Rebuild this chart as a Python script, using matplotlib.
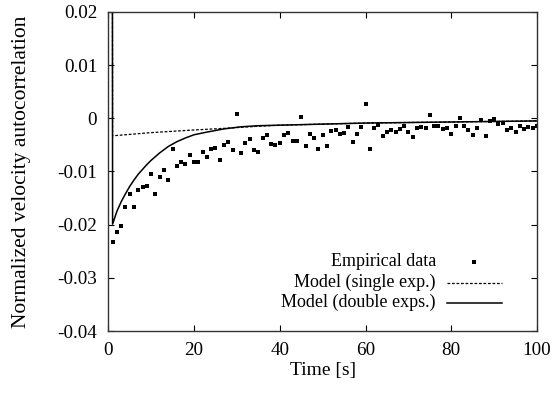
import numpy as np
import matplotlib
matplotlib.use("Agg")
import matplotlib.pyplot as plt

plt.rcParams["font.family"] = ["Liberation Serif", "DejaVu Serif"]
plt.rcParams["axes.unicode_minus"] = False

# empirical autocorrelation, lag t = 1..100 s
emp_t = np.arange(1, 101)
emp_v = [
    -0.0233, -0.0213, -0.0202, -0.0167, -0.0142, -0.0167, -0.0135, -0.0130, -0.0127, -0.0105,
    -0.0142, -0.0110, -0.0098, -0.0117, -0.0058, -0.0090, -0.0083, -0.0086, -0.0070, -0.0082,
    -0.0082, -0.0063, -0.0073, -0.0058, -0.0056, -0.0078, -0.0050, -0.0045, -0.0060, 0.0008,
    -0.0065, -0.0046, -0.0039, -0.0059, -0.0063, -0.0037, -0.0032, -0.0049, -0.0051, -0.0047,
    -0.0032, -0.0028, -0.0042, -0.0043, 0.0002, -0.0053, -0.0030, -0.0038, -0.0058, -0.0031,
    -0.0053, -0.0024, -0.0022, -0.0030, -0.0027, -0.0016, -0.0044, -0.0030, -0.0017, 0.0026,
    -0.0058, -0.0019, -0.0012, -0.0033, -0.0026, -0.0023, -0.0026, -0.0021, -0.0014, -0.0026,
    -0.0036, -0.0018, -0.0016, -0.0019, 0.0006, -0.0014, -0.0014, -0.0020, -0.0018, -0.0030,
    -0.0015, 0.0001, -0.0014, -0.0023, -0.0031, -0.0018, -0.0003, -0.0034, -0.0005, -0.0002,
    -0.0010, -0.0008, -0.0023, -0.0018, -0.0026, -0.0015, -0.0020, -0.0016, -0.0018, -0.0014,
]

# model curves (lag 0 = 1)
single_t = [0, 1, 10, 20, 27, 35, 40, 50, 60, 80, 100]
single_v = [1.0, -0.0033, -0.0027, -0.0022, -0.0019, -0.0015, -0.0013, -0.0011, -0.0009, -0.0007, -0.0005]

double_t = [0, 1, 2, 3, 4, 5, 6, 7, 8, 9, 10, 12, 14, 16, 18, 20, 23, 27, 31, 35, 40, 50, 60, 80, 100]
double_v = [1.0, -0.0199, -0.0175, -0.0157, -0.0142, -0.0128, -0.0116, -0.0105, -0.0096, -0.0087,
            -0.0079, -0.0065, -0.0053, -0.0044, -0.0037, -0.0031, -0.0026, -0.0020, -0.0016,
            -0.0014, -0.0013, -0.0011, -0.0009, -0.0007, -0.0005]

labels = ["Empirical data", "Model (single exp.)", "Model (double exps.)"]

fig = plt.figure(figsize=(5.54, 3.95), dpi=100)
ax = fig.add_axes([0.1955, 0.162, 0.7738, 0.8079])

ax.plot(emp_t, emp_v, "s", color="black", ms=2.9, mew=0)
ax.plot(single_t, single_v, "--", color="black", lw=0.9, dashes=(2.2, 1.4))
ax.plot(double_t, double_v, "-", color="black", lw=1.1)

ax.set_xlim(0, 100)
ax.set_ylim(-0.04, 0.02)
ax.set_xticks(np.arange(0, 101, 20))
yt = np.round(np.arange(-0.04, 0.021, 0.01), 2)
ax.set_yticks(yt)
ax.set_yticklabels(["0" if v == 0 else f"{v:.2f}" for v in yt])
ax.tick_params(direction="in", top=True, right=True, length=4, width=0.8,
               labelsize=13.8, colors="black", pad=8)
for s in ax.spines.values():
    s.set_linewidth(1.0)
    s.set_color("#333333")

ax.set_xlabel("Time [s]", fontsize=14, labelpad=2)
ax.set_ylabel("Normalized velocity autocorrelation", fontsize=15.5, labelpad=19)

# gnuplot-style key: right-aligned text, sample on the right
key_y = [0.217, 0.151, 0.089]
tx, x0, x1 = 0.764, 0.790, 0.918
ax.text(tx, key_y[0], labels[0], transform=ax.transAxes, ha="right", va="center", fontsize=13)
ax.plot([(x0 + x1) / 2], [key_y[0]], "s", color="black", ms=2.9, mew=0, transform=ax.transAxes)
ax.text(tx, key_y[1], labels[1], transform=ax.transAxes, ha="right", va="center", fontsize=13)
ax.plot([x0, x1], [key_y[1]] * 2, "--", color="black", lw=0.9, dashes=(2.2, 1.4), transform=ax.transAxes)
ax.text(tx, key_y[2], labels[2], transform=ax.transAxes, ha="right", va="center", fontsize=13)
ax.plot([x0, x1], [key_y[2]] * 2, "-", color="black", lw=1.1, transform=ax.transAxes)

fig.savefig("out.png", dpi=100)
